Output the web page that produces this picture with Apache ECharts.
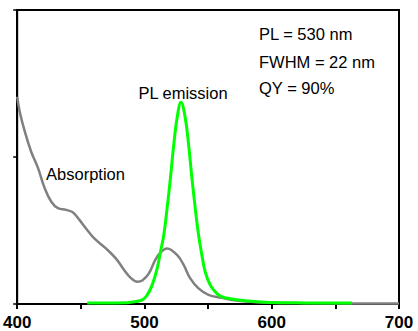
<!DOCTYPE html>
<html>
<head>
<meta charset="utf-8">
<script src="https://cdn.jsdelivr.net/npm/echarts@6/dist/echarts.min.js"></script>
<style>
html,body{margin:0;padding:0;background:#fff;}
#chart{width:418px;height:331px;}
</style>
</head>
<body>
<div id="chart"></div>
<script>
// Absorption spectrum (wavelength nm, relative intensity)
var absWl  = [400, 402, 406, 411, 416.4, 421.6, 426.8, 432, 438.5, 443.7, 448.9, 454.1, 460.6, 469.7, 477.5, 484, 489.2, 494.4, 498.3, 503.5, 510, 517.8, 525.6, 530.8, 536, 542.5, 550.3, 560.7, 568.5, 589.4, 620, 660, 700];
var absVal = [0.705, 0.654, 0.586, 0.518, 0.462, 0.394, 0.348, 0.326, 0.320, 0.312, 0.286, 0.257, 0.223, 0.189, 0.155, 0.116, 0.089, 0.076, 0.080, 0.104, 0.161, 0.189, 0.167, 0.133, 0.087, 0.053, 0.031, 0.021, 0.014, 0.006, 0.003, 0.002, 0.002];
// PL emission spectrum
var plWl  = [455, 470, 485, 489.2, 498.3, 502.2, 506.1, 510, 512.6, 515.2, 517.8, 520.4, 523, 525.6, 528.7, 532.1, 534.7, 537.3, 539.9, 542.5, 545.1, 547.7, 551.6, 556.8, 560.7, 568.5, 581.6, 594.5, 620, 640, 663];
var plVal = [0.003, 0.003, 0.004, 0.006, 0.014, 0.031, 0.065, 0.121, 0.178, 0.235, 0.326, 0.428, 0.541, 0.632, 0.686, 0.632, 0.541, 0.428, 0.326, 0.235, 0.167, 0.110, 0.065, 0.036, 0.025, 0.017, 0.010, 0.006, 0.004, 0.003, 0.003];
// Axis tick labels
var xTickLabels = ['400', '500', '600', '700'];
// Annotations
var infoLines = ['PL = 530 nm', 'FWHM = 22 nm', 'QY = 90%'];
var plLabel = 'PL emission';
var absLabel = 'Absorption';

function zip(a, b) { return a.map(function (v, i) { return [v, b[i]]; }); }

var chart = echarts.init(document.getElementById('chart'), null, {renderer: 'svg'});
var font = 'Arial, "Liberation Sans", sans-serif';
var tfont = '16.5px ' + font;
chart.setOption({
  animation: false,
  backgroundColor: '#fff',
  grid: {left: 14, right: 19, top: 10, bottom: 27, show: true, borderColor: '#000', borderWidth: 2},
  xAxis: {
    type: 'value', min: 400, max: 700, interval: 50,
    axisLine: {lineStyle: {color: '#000', width: 2}},
    axisTick: {show: true, inside: false, length: 5, lineStyle: {color: '#000', width: 2}},
    splitLine: {show: false},
    axisLabel: {
      margin: 10, color: '#000', fontFamily: font, fontSize: 17, fontWeight: 'bold',
      formatter: function (v) { var s = String(v); return xTickLabels.indexOf(s) >= 0 ? s : ''; }
    }
  },
  yAxis: {
    type: 'value', min: 0, max: 1, interval: 0.5,
    axisLine: {show: true, lineStyle: {color: '#000', width: 2}},
    axisTick: {show: true, inside: false, length: 4, lineStyle: {color: '#000', width: 1.5}},
    splitLine: {show: false},
    axisLabel: {show: false}
  },
  series: [
    {type: 'line', data: zip(absWl, absVal), smooth: 0.4, symbol: 'none', lineStyle: {color: '#808080', width: 2.5}, z: 2},
    {type: 'line', data: zip(plWl, plVal), smooth: 0.4, symbol: 'none', lineStyle: {color: '#00ff00', width: 3}, z: 3}
  ],
  graphic: [
    {type: 'text', x: 259, y: 34.3, style: {text: infoLines[0], font: tfont, fill: '#000', textAlign: 'left', textVerticalAlign: 'middle'}},
    {type: 'text', x: 259, y: 61.7, style: {text: infoLines[1], font: tfont, fill: '#000', textAlign: 'left', textVerticalAlign: 'middle'}},
    {type: 'text', x: 259, y: 88.3, style: {text: infoLines[2], font: tfont, fill: '#000', textAlign: 'left', textVerticalAlign: 'middle'}},
    {type: 'text', x: 183, y: 92.7, style: {text: plLabel, font: tfont, fill: '#000', textAlign: 'center', textVerticalAlign: 'middle'}},
    {type: 'text', x: 85.5, y: 174.3, style: {text: absLabel, font: tfont, fill: '#000', textAlign: 'center', textVerticalAlign: 'middle'}}
  ]
});
</script>
</body>
</html>
